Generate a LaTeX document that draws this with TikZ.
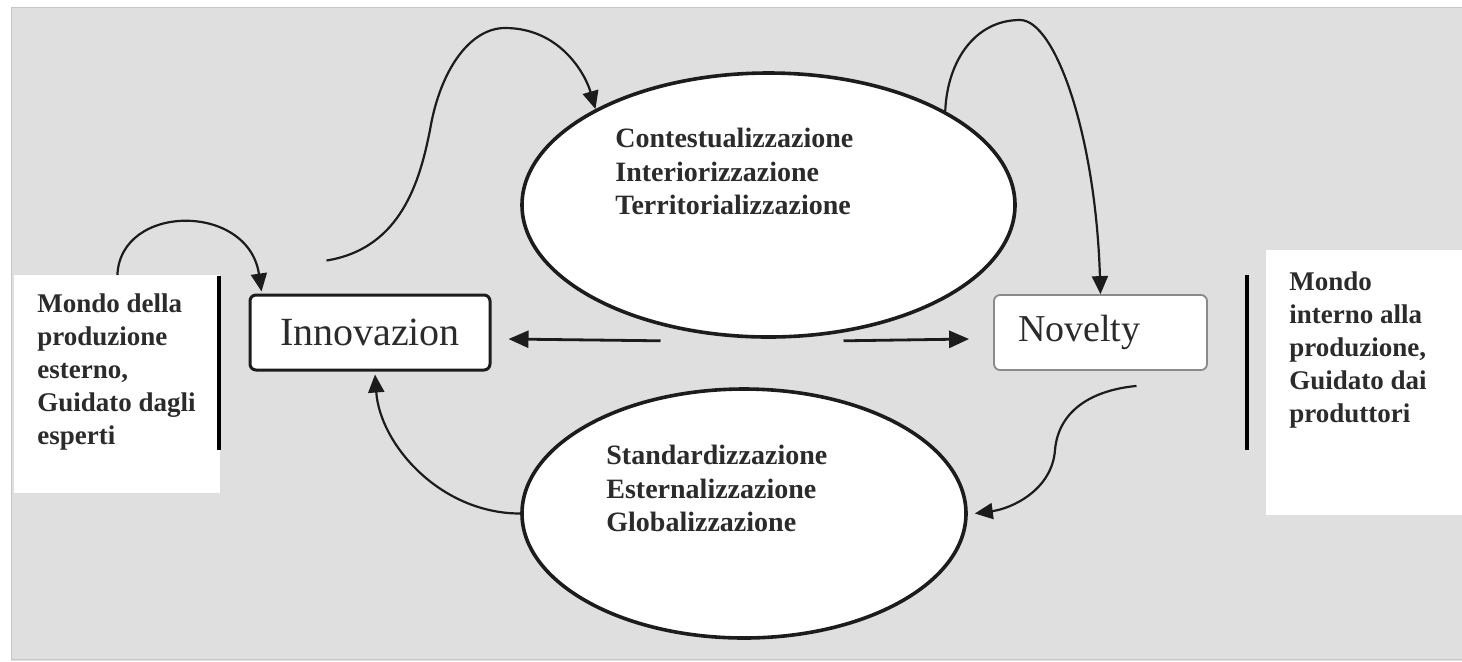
\documentclass[tikz,border=0pt]{standalone}
\usepackage{fontspec}
\setmainfont{Liberation Serif}
\usetikzlibrary{arrows.meta,shapes.geometric,calc}
\definecolor{panelgray}{HTML}{DFDFDF}
\definecolor{framegray}{HTML}{C6C6C6}
\definecolor{inkdark}{HTML}{1C1C1C}
\definecolor{textdark}{HTML}{2B2B2B}
\definecolor{softedge}{HTML}{8A8A8A}

\begin{document}
\begin{tikzpicture}[x=0.5pt,y=-0.5pt,
  conn/.style={draw=inkdark, line width=1.1pt, -{Triangle[length=9pt,width=8pt]}},
  flat/.style={draw=inkdark, line width=1.4pt, -{Triangle[length=10pt,width=8.5pt]}},
  panel/.style={fill=white, draw=none, inner sep=0, anchor=north west},
  divider/.style={draw=black, line width=2pt},
  innobox/.style={draw=inkdark, line width=1.5pt, fill=white, rounded corners=3pt,
    inner sep=0, text=textdark, font=\fontsize{20pt}{23pt}\selectfont},
  novbox/.style={draw=softedge, line width=0.9pt, fill=white, rounded corners=3pt,
    inner ysep=0, text=textdark, font=\fontsize{19pt}{22pt}\selectfont},
  stage/.style={ellipse, draw=inkdark, line width=1.8pt, fill=white, inner sep=0},
  sidenote/.style={anchor=north west, inner sep=0, align=left, text=textdark,
    font=\fontsize{13.5pt}{16.5pt}\selectfont\bfseries},
  stagenote/.style={anchor=north west, inner sep=0, align=left, text=textdark,
    font=\fontsize{14pt}{16.75pt}\selectfont\bfseries}
]
\useasboundingbox (0,0) rectangle (1462,661);
\fill[white] (0,0) rectangle (1462,661);

% grey backdrop with its thin frame
\fill[panelgray] (11,7) rectangle (1462,661);
\draw[framegray, line width=0.8pt] (1462,7.5) -- (11.5,7.5) -- (11.5,659.5) -- (1462,659.5);

% side panels with their dividers
\node[panel, minimum width=103pt, minimum height=109pt] (leftpanel) at (14,275) {};
\node[panel, minimum width=98.5pt, minimum height=132.5pt] (rightpanel) at (1265.5,250) {};
\draw[divider] (219,276) -- (219,450);
\draw[divider] (1247,275) -- (1247,450);

\node[sidenote] (leftnote) at (37,293) {Mondo della\\produzione\\esterno,\\Guidato dagli\\esperti};
\node[sidenote] (rightnote) at (1289,271) {Mondo\\interno alla\\produzione,\\Guidato dai\\produttori};

% the two poles
\node[innobox, minimum width=120pt, minimum height=37.5pt] (innov) at (370,332.5) {Innovazion};
\node[novbox, minimum width=106.5pt, minimum height=37.5pt, inner xsep=12pt,
  text width=82.5pt, align=left] (novelty) at (1100.5,332.5) {Novelty};

% the two transformation stages
\node[stage, minimum width=246.5pt, minimum height=132pt] (ctop) at (768.5,205) {};
\node[stage, minimum width=222pt, minimum height=124.5pt] (cbot) at (744,513.5) {};
\node[stagenote] (ctoptext) at (615,128) {Contestualizzazione\\Interiorizzazione\\Territorializzazione};
\node[stagenote] (cbottext) at (606,445) {Standardizzazione\\Esternalizzazione\\Globalizzazione};

% connectors
\draw[conn] (leftpanel.north) .. controls +(3,-72) and +(-13,-89) .. ($(innov.north west)+(13,-2)$);

\coordinate (swirl) at ($(innov.north east)+(-165,-33)$);
\draw[conn] (swirl) .. controls +(75,-12) and +(-10,50) .. (430,130)
  .. controls +(10,-60) and +(-35,0) .. (505,28)
  .. controls +(55,0) and +(-10,-35) .. (ctop.151);

\draw[conn] (ctop.28) .. controls +(2,-50) and +(-45,0) .. (1020,20)
  .. controls +(35,0) and +(-5,-160) .. (novelty.north);

\coordinate (nstart) at ($(novelty.south)+(36,15)$);
\draw[conn] (nstart) .. controls +(-51,5) and +(3,-35) .. (1055,450)
  .. controls +(-3,40) and +(37,-5) .. ($(cbot.east)+(7,0)$);

\draw[conn] (cbot.west) .. controls +(-80,0) and +(5,70) .. ($(innov.south)+(5,3)$);

\coordinate (lstart) at ($(ctop.south)+(-108,2)$);
\coordinate (rstart) at ($(ctop.south)+(75,2)$);
\draw[flat] (lstart) -- ($(innov.east)+(17,6.5)$);
\draw[flat] (rstart) -- ($(novelty.west)+(-24,6.5)$);
\end{tikzpicture}
\end{document}
